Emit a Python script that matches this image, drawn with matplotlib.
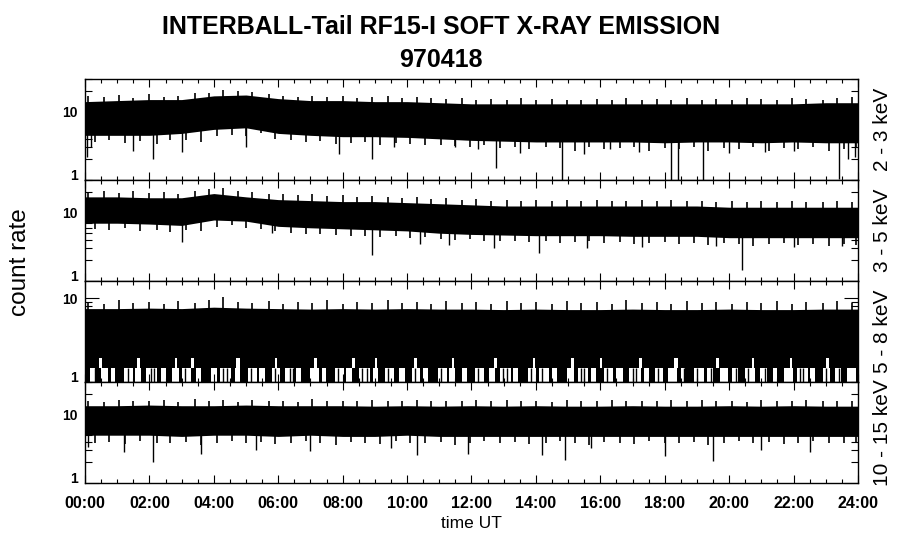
import numpy as np
import matplotlib.pyplot as plt
from matplotlib.ticker import FixedLocator, NullFormatter, LogLocator

plt.rcParams["font.family"] = ["Liberation Sans", "DejaVu Sans"]

# hourly envelope of the dense band
hours = list(range(0, 25))

band1_hi = [14, 14.5, 15, 15, 17, 17.5, 15.5, 14.5, 14.5, 14, 14, 13.5, 13, 13, 13,
            13, 13, 13, 13, 13, 13, 13, 13, 13.5, 13.5]
band1_lo = [4.5, 4.5, 4.5, 4.8, 5.5, 5.8, 4.8, 4.5, 4.3, 4.3, 4.2, 4.0, 3.8, 3.7, 3.6,
            3.6, 3.6, 3.6, 3.5, 3.6, 3.6, 3.5, 3.6, 3.5, 3.5]

band2_hi = [17, 17, 16.5, 16.5, 19, 17, 15.5, 15, 14.5, 14.5, 14, 13.5, 13, 12.5, 12.5,
            12.5, 12.5, 12.5, 12.5, 12.5, 12, 12, 12, 12, 12]
band2_lo = [7, 7, 6.8, 6.5, 7.8, 7.5, 6.3, 6, 5.8, 5.6, 5.4, 5, 4.8, 4.7, 4.6,
            4.6, 4.6, 4.5, 4.5, 4.5, 4.3, 4.3, 4.3, 4.3, 4.3]

band3_hi = [7.5, 7.5, 7.6, 7.5, 7.8, 7.6, 7.5, 7.4, 7.5, 7.4, 7.5, 7.4, 7.4, 7.3, 7.4,
            7.3, 7.3, 7.4, 7.3, 7.3, 7.4, 7.3, 7.3, 7.4, 7.4]
band3_lo = [1.0] * 25

band4_hi = [13.5, 13.5, 13.8, 13.5, 13.5, 13.8, 13.5, 13.5, 13.5, 13.3, 13.5, 13.3, 13.5, 13.3, 13.5,
            13.3, 13.3, 13.5, 13.3, 13.3, 13.5, 13.3, 13.5, 13.3, 13.3]
band4_lo = [5.0, 5.0, 5.0, 4.8, 5.0, 5.0, 4.8, 5.0, 4.8, 4.8, 5.0, 4.8, 4.8, 4.8, 4.8,
            4.8, 4.8, 4.8, 4.8, 4.8, 4.8, 4.8, 4.8, 4.8, 4.8]

# short upward spikes above the band (hours) and their peak values per channel
up_t = [0.1, 0.6, 1.05, 1.5, 2.0, 2.45, 2.9, 3.4, 3.85, 4.3, 4.75, 5.2, 5.7, 6.15, 6.6, 7.05,
        7.5, 8.0, 8.45, 8.9, 9.4, 9.85, 10.3, 10.75, 11.2, 11.7, 12.15, 12.6, 13.1, 13.55, 14.0,
        14.5, 14.95, 15.4, 15.9, 16.35, 16.8, 17.3, 17.75, 18.2, 18.7, 19.15, 19.6, 20.1, 20.55,
        21.0, 21.5, 21.95, 22.4, 22.9, 23.35, 23.8]
up1_v = [17, 16.5, 17.5, 16, 18, 16.5, 17, 18.5, 19, 21, 20, 19.5, 18, 17, 16.5, 17, 16.5, 17,
         16, 16.5, 17, 16, 16.5, 16, 15.5, 16, 15, 15.5, 15, 16, 15, 15.5, 15, 14.8, 15.5, 15, 16,
         15, 15.5, 15, 16, 15, 15.5, 15, 16, 15.5, 15, 16, 15.5, 15, 16, 16.5]
up2_v = [20, 21, 19.5, 20.5, 19.5, 20, 19, 20.5, 22, 23, 21, 20, 19, 18.5, 18, 18.5, 17.5, 18,
         17, 17.5, 17, 16.5, 17, 16, 16.5, 15.5, 16, 15, 15.5, 15, 15.5, 14.8, 15.2, 15, 15.5,
         14.8, 15, 15.3, 14.8, 15.2, 14.8, 15, 14.5, 15, 14.5, 14.8, 14.3, 14.8, 14.5, 14.3, 14.8, 14.5]
up3_v = [9, 8.5, 9.5, 8.7, 9, 8.6, 9.2, 8.8, 9.5, 10.2, 9, 8.7, 9.3, 8.6, 9, 8.8, 9.4, 8.6, 9,
         8.8, 9.6, 8.7, 9, 8.5, 9.2, 8.8, 9, 8.6, 9.3, 8.7, 9, 8.5, 9.2, 8.8, 9, 8.6, 9.4, 8.7, 9,
         8.5, 9.3, 8.8, 9, 8.6, 9.1, 8.7, 9.3, 8.5, 9, 8.8, 9.2, 8.7]
up4_v = [16, 15.5, 16.5, 15.8, 16, 16.5, 15.5, 16.8, 15.8, 16.2, 15.5, 16.5, 15.8, 16, 15.5,
         16.8, 15.8, 16, 15.6, 16.4, 15.8, 16, 16.6, 15.6, 16, 15.8, 16.5, 15.6, 16.2, 15.8, 16,
         15.5, 16.4, 15.8, 16, 16.6, 15.6, 16, 15.8, 16.5, 15.6, 16.2, 15.8, 16, 15.5, 16.4, 15.8,
         16, 16.6, 15.6, 16, 15.8]

# short downward spikes below the band
dn_t = [0.3, 0.75, 1.25, 1.7, 2.25, 2.65, 3.15, 3.6, 4.1, 4.55, 5.0, 5.45, 5.9, 6.4, 6.85, 7.3,
        7.8, 8.25, 8.7, 9.15, 9.65, 10.1, 10.55, 11.05, 11.5, 11.95, 12.4, 12.9, 13.35, 13.8,
        14.3, 14.75, 15.2, 15.65, 16.1, 16.6, 17.05, 17.5, 18.0, 18.45, 18.9, 19.35, 19.85, 20.3,
        20.75, 21.25, 21.7, 22.15, 22.6, 23.1, 23.55, 23.95]
dn1_v = [3.6, 3.8, 3.5, 3.7, 3.4, 3.8, 3.9, 3.6, 4.4, 4.6, 4.4, 4.8, 4.0, 3.8, 3.6, 3.7, 3.4,
         3.5, 3.6, 3.3, 3.5, 3.4, 3.2, 3.3, 3.1, 3.0, 3.2, 2.9, 3.0, 2.8, 3.0, 2.9, 2.7, 3.0, 2.8,
         2.9, 3.0, 2.7, 2.9, 2.8, 3.0, 2.7, 2.9, 2.8, 3.0, 2.7, 2.9, 2.8, 3.0, 2.7, 2.8, 2.9]
dn2_v = [5.8, 5.5, 5.9, 5.4, 5.6, 5.2, 5.5, 5.3, 6.2, 6.5, 6.0, 5.8, 5.4, 5.0, 4.9, 4.8, 4.7,
         4.5, 4.6, 4.4, 4.5, 4.3, 4.4, 4.1, 4.0, 4.1, 3.9, 3.8, 3.9, 3.7, 3.8, 3.6, 3.7, 3.8, 3.6,
         3.7, 3.5, 3.6, 3.7, 3.5, 3.6, 3.4, 3.6, 3.5, 3.3, 3.5, 3.6, 3.4, 3.5, 3.3, 3.5, 3.4]
dn4_v = [3.9, 4.0, 3.7, 4.1, 3.8, 3.9, 4.0, 3.6, 3.9, 4.1, 3.8, 4.0, 3.7, 3.9, 4.1, 3.8, 3.6,
         4.0, 3.9, 3.7, 4.1, 3.8, 3.9, 4.0, 3.6, 3.9, 4.1, 3.8, 4.0, 3.7, 3.9, 4.1, 3.8, 3.6, 4.0,
         3.9, 3.7, 4.1, 3.8, 3.9, 4.0, 3.6, 3.9, 4.1, 3.8, 4.0, 3.7, 3.9, 4.1, 3.8, 3.9, 4.0]

# deep dips (time in hours, lowest value)
dips1_t = [0.05, 0.2, 1.5, 2.1, 3.0, 5.0, 7.9, 8.9, 9.6, 11.5, 12.2, 12.75, 13.5, 14.8, 15.5,
           16.3, 17.2, 18.2, 18.4, 19.2, 20.0, 21.1, 22.0, 23.4, 23.7, 23.9]
dips1_v = [2.2, 3.0, 2.7, 2.0, 2.6, 3.0, 2.4, 2.0, 3.0, 3.0, 2.8, 1.5, 2.5, 1.0, 2.4,
           2.8, 2.6, 1.0, 1.0, 1.0, 2.5, 2.6, 2.7, 1.05, 2.0, 2.2]
dips2_t = [3.0, 5.8, 8.9, 10.4, 11.3, 12.7, 14.1, 15.6, 17.3, 19.6, 20.4, 22.0, 23.5]
dips2_v = [3.7, 5.0, 2.4, 3.5, 3.4, 3.0, 2.6, 3.0, 3.1, 3.2, 1.45, 3.1, 3.2]
dips4_t = [0.1, 1.2, 2.1, 3.6, 5.3, 7.0, 9.5, 10.3, 11.9, 14.2, 14.9, 15.7, 18.0, 19.5, 21.0, 22.5]
dips4_v = [3.4, 2.8, 2.0, 2.7, 3.0, 2.9, 3.3, 2.6, 2.7, 2.6, 2.2, 3.2, 2.5, 2.1, 3.0, 2.8]

# white gaps in the low-count levels of the 5-8 keV channel (start hour, width hours)
gaps3_start = [0.15, 0.5, 0.8, 1.2, 1.55, 1.9, 2.35, 2.7, 3.0, 3.45, 3.9, 4.2, 4.65, 5.05, 5.4,
               5.8, 6.2, 6.55, 7.0, 7.35, 7.75, 8.1, 8.5, 8.95, 9.3, 9.75, 10.15, 10.5, 10.95,
               11.3, 11.7, 12.1, 12.55, 12.9, 13.3, 13.75, 14.1, 14.5, 14.95, 15.3, 15.7, 16.1,
               16.5, 16.9, 17.35, 17.7, 18.1, 18.5, 18.9, 19.3, 19.7, 20.1, 20.5, 20.95, 21.35,
               21.7, 22.1, 22.5, 22.9, 23.3, 23.65]
gaps3_width = [0.15, 0.22, 0.12, 0.3, 0.2, 0.35, 0.15, 0.22, 0.28, 0.14, 0.2, 0.32, 0.16, 0.28,
               0.2, 0.24, 0.3, 0.16, 0.26, 0.14, 0.3, 0.2, 0.36, 0.15, 0.28, 0.18, 0.24, 0.14,
               0.3, 0.2, 0.16, 0.28, 0.18, 0.33, 0.15, 0.26, 0.3, 0.14, 0.22, 0.32, 0.16, 0.28,
               0.2, 0.36, 0.16, 0.24, 0.28, 0.14, 0.32, 0.2, 0.26, 0.16, 0.3, 0.22, 0.14, 0.28,
               0.36, 0.16, 0.24, 0.18, 0.28]
# thin counts that cut through the wider gaps
bars3_t = [0.3, 1.35, 2.05, 2.15, 3.1, 4.3, 4.4, 5.15, 5.9, 6.35, 6.45, 7.85, 8.6, 8.75, 9.4,
           10.25, 11.05, 12.2, 12.98, 13.1, 13.85, 14.2, 15.4, 15.5, 16.2, 17.0, 17.1, 17.8, 18.6,
           19.0, 19.45, 20.2, 20.6, 21.1, 22.2, 22.3, 23.0, 23.4]
bars3_v = [1.47] * 38
gaps3b_start = [0.45, 1.6, 2.8, 3.3, 4.7, 5.9, 7.1, 8.3, 9.0, 10.2, 11.4, 12.7, 13.9, 15.1,
                16.0, 17.2, 18.3, 19.6, 20.7, 21.9, 23.0]
gaps3b_width = [0.07, 0.1, 0.06, 0.08, 0.12, 0.06, 0.09, 0.07, 0.08, 0.1, 0.06, 0.08, 0.07,
                0.09, 0.06, 0.08, 0.1, 0.07, 0.08, 0.06, 0.09]

tick_hours = list(range(0, 25, 2))
tick_labels = ["%02d:00" % h for h in tick_hours]
channels = ["2 - 3 keV", "3 - 5 keV", "5 - 8 keV", "10 - 15 keV"]
ytops = [30, 30, 16, 30]

fig = plt.figure(figsize=(9, 5.48), dpi=100)
left, width, height = 85 / 900, 773 / 900, 101 / 548
bottoms = [1 - 180 / 548, 1 - 281 / 548, 1 - 382 / 548, 1 - 483 / 548]

bands = [(band1_hi, band1_lo), (band2_hi, band2_lo), (band3_hi, band3_lo), (band4_hi, band4_lo)]
ups = [up1_v, up2_v, up3_v, up4_v]
downs = [dn1_v, dn2_v, None, dn4_v]
dips = [(dips1_t, dips1_v), (dips2_t, dips2_v), None, (dips4_t, dips4_v)]

axes = []
for i in range(4):
    ax = fig.add_axes([left, bottoms[i], width, height])
    axes.append(ax)
    hi, lo = bands[i]
    ax.fill_between(hours, lo, hi, color="black", lw=0)
    ax.vlines(up_t, np.interp(up_t, hours, hi) * 0.95, ups[i], color="black", lw=1.2)
    if downs[i] is not None:
        ax.vlines(dn_t, downs[i], np.interp(dn_t, hours, lo) * 1.05, color="black", lw=1.2)
    if dips[i] is not None:
        t, v = dips[i]
        ax.vlines(t, v, np.interp(t, hours, lo) * 1.05, color="black", lw=1.0)
    ax.set_yscale("log")
    ax.set_ylim(1, ytops[i])
    ax.set_xlim(0, 24)
    ax.set_xticks(tick_hours)
    ax.xaxis.set_minor_locator(FixedLocator(np.arange(0, 24.01, 0.5)))
    ax.yaxis.set_major_locator(FixedLocator([1, 10]))
    ax.yaxis.set_minor_locator(LogLocator(base=10, subs=range(2, 10)))
    ax.yaxis.set_minor_formatter(NullFormatter())
    labs = ax.set_yticklabels(["1", "10"], fontweight="bold", fontsize=10)
    labs[0].set_va("baseline")
    ax.tick_params(which="both", direction="in", top=True, right=True, width=0.8)
    ax.tick_params(axis="x", which="major", length=6, pad=9)
    ax.tick_params(axis="x", which="minor", length=3)
    ax.tick_params(axis="y", which="major", length=10, pad=5)
    ax.tick_params(axis="y", which="minor", length=5)
    for s in ax.spines.values():
        s.set_linewidth(1.0)
    if i < 3:
        ax.set_xticklabels([])
    else:
        ax.set_xticklabels(tick_labels, fontweight="bold", fontsize=11.5)
        ax.set_xlabel("time UT", fontsize=12.5, labelpad=4)
    ax.text(1.032, 0.5, channels[i], transform=ax.transAxes, rotation=90,
            ha="center", va="center", fontsize=15)

# 5-8 keV: the low count levels are only partly filled
ax3 = axes[2]
ax3.bar(gaps3_start, 0.47, bottom=1.0, width=gaps3_width, align="edge", color="white", lw=0)
ax3.bar(gaps3b_start, 0.46, bottom=1.47, width=gaps3b_width, align="edge", color="white", lw=0)
ax3.vlines(bars3_t, 1.0, bars3_v, color="black", lw=1.0)

fig.text(0.49, 1 - 27 / 548, "INTERBALL-Tail RF15-I SOFT X-RAY EMISSION",
         ha="center", va="center", fontsize=18, fontweight="bold")
fig.text(0.49, 1 - 60 / 548, "970418", ha="center", va="center", fontsize=18, fontweight="bold")
fig.text(20 / 900, 1 - 262 / 548, "count rate", rotation=90, ha="center", va="center", fontsize=17.5)

fig.savefig("out.png", dpi=100)
